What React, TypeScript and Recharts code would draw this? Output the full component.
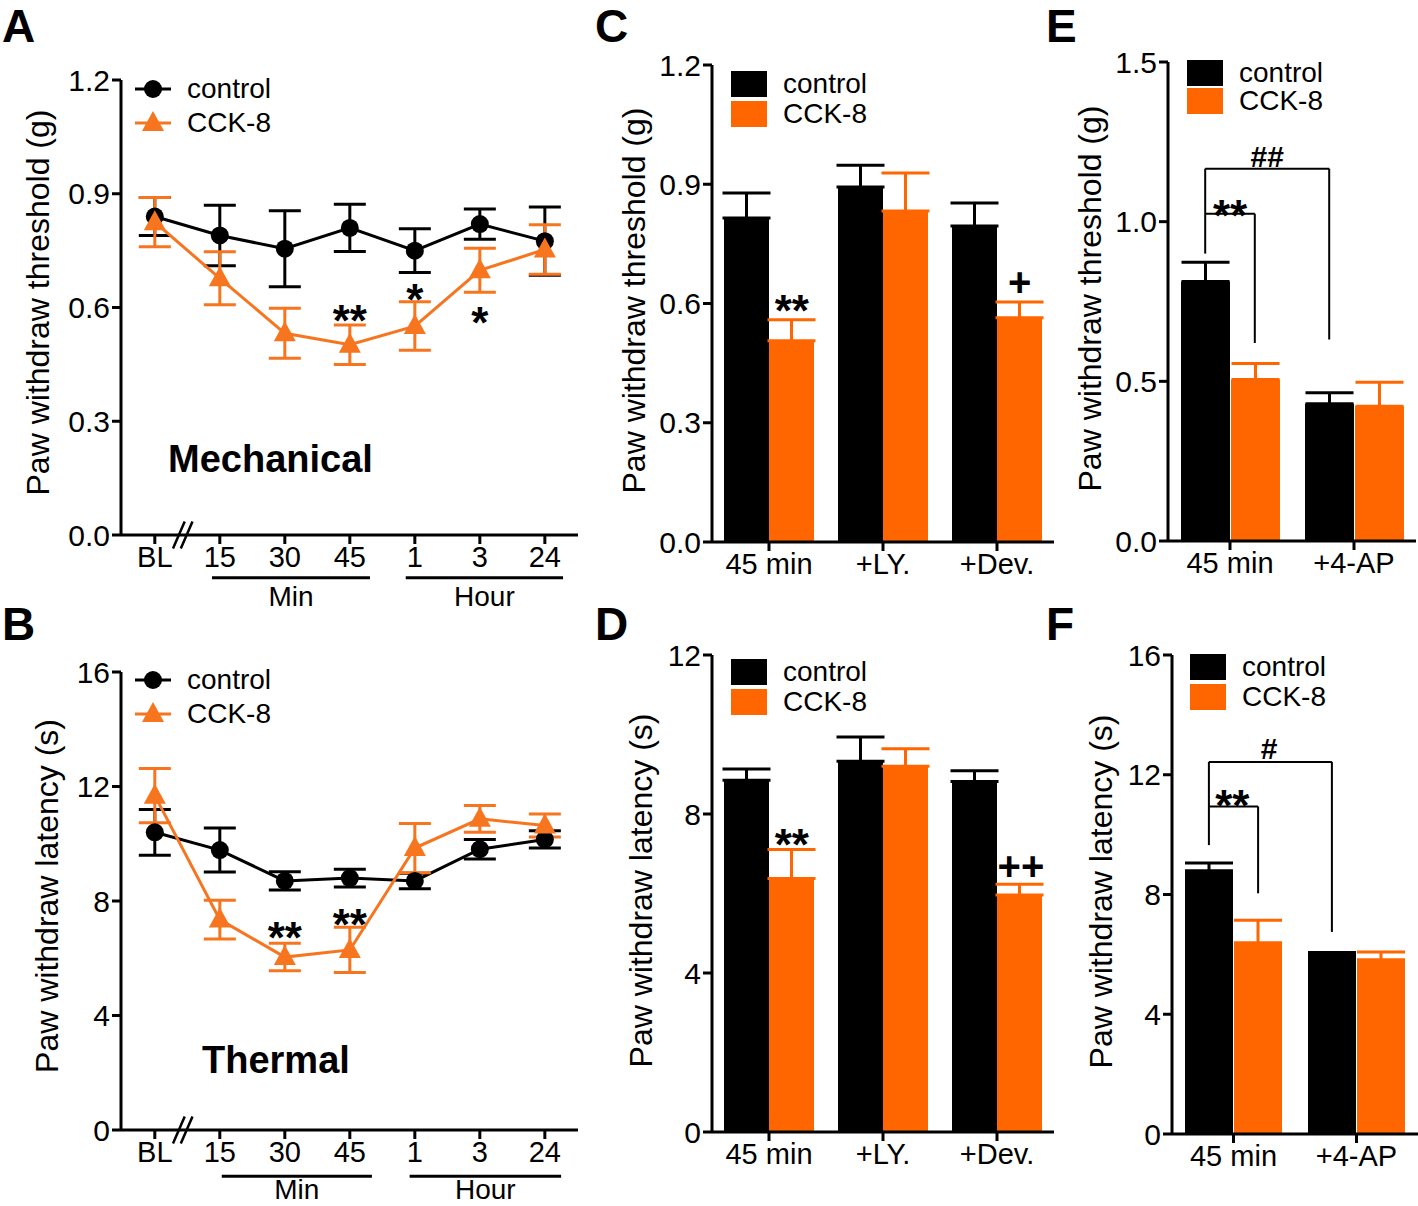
import React from "react";
import {
  LineChart,
  Line,
  BarChart,
  Bar,
  XAxis,
  YAxis,
  ErrorBar,
  ReferenceLine,
  ReferenceDot,
  Legend,
} from "recharts";

const FONT = "'Liberation Sans', Arial, Helvetica, sans-serif";
const ORANGE = "#FF6600";
const LINE_ORANGE = "#F7751F";

// ---- A / B : time course ----
const timeLabels = ["BL", "15", "30", "45", "1", "3", "24"];

const mechControl = [0.84, 0.79, 0.755, 0.81, 0.75, 0.82, 0.775];
const mechControlErr = [0.05, 0.08, 0.1, 0.062, 0.058, 0.04, 0.09];
const mechCck = [0.825, 0.677, 0.532, 0.502, 0.551, 0.698, 0.753];
const mechCckErr = [0.065, 0.07, 0.066, 0.052, 0.064, 0.058, 0.065];

const thermControl = [10.4, 9.78, 8.7, 8.8, 8.7, 9.81, 10.15];
const thermControlErr = [0.8, 0.77, 0.32, 0.31, 0.27, 0.34, 0.3];
const thermCck = [11.68, 7.35, 6.04, 6.29, 9.85, 10.87, 10.64];
const thermCckErr = [0.95, 0.68, 0.48, 0.79, 0.86, 0.47, 0.4];

const mechSigs = [
  { x: 3, y: 0.595, t: "**" },
  { x: 4, y: 0.651, t: "*" },
  { x: 5, y: 0.588, t: "*" },
];
const thermSigs = [
  { x: 2, y: 7.1, t: "**" },
  { x: 3, y: 7.55, t: "**" },
];

// ---- C / D : antagonists ----
const drugGroups = ["45 min", "+LY.", "+Dev."];
const cControl = [0.815, 0.893, 0.795];
const cControlErr = [0.063, 0.055, 0.058];
const cCck = [0.506, 0.833, 0.564];
const cCckErr = [0.053, 0.095, 0.04];
const cSigs = [
  { x: 0.7, y: 0.609, t: "**" },
  { x: 2.7, y: 0.654, t: "+" },
];

const dControl = [8.85, 9.33, 8.82];
const dControlErr = [0.28, 0.61, 0.27];
const dCck = [6.38, 9.2, 5.96];
const dCckErr = [0.73, 0.44, 0.27];
const dSigs = [
  { x: 0.7, y: 7.51, t: "**" },
  { x: 2.71, y: 6.69, t: "++" },
];

// ---- E / F : 4-AP ----
const apGroups = ["45 min", "+4-AP"];
const eControl = [0.813, 0.43];
const eControlErr = [0.06, 0.034];
const eCck = [0.506, 0.422];
const eCckErr = [0.05, 0.075];
const eSigs = [
  { x: 0.5, y: 1.055, t: "**" },
  { x: 0.8, y: 1.205, t: "##" },
];
const eBrackets = [
  [[0.3, 1.166], [1.3, 1.166]],
  [[0.3, 1.025], [0.7, 1.025]],
  [[0.3, 0.9], [0.3, 1.166]],
  [[0.7, 0.62], [0.7, 1.025]],
  [[1.3, 0.631], [1.3, 1.166]],
];

const fControl = [8.79, 5.97];
const fControlErr = [0.26, 0.09];
const fCck = [6.39, 5.82];
const fCckErr = [0.75, 0.26];
const fSigs = [
  { x: 0.49, y: 11.33, t: "**" },
  { x: 0.79, y: 12.88, t: "#" },
];
const fBrackets = [
  [[0.3, 12.43], [1.3, 12.43]],
  [[0.3, 10.94], [0.7, 10.94]],
  [[0.3, 9.65], [0.3, 12.43]],
  [[0.7, 8.04], [0.7, 10.94]],
  [[1.3, 6.75], [1.3, 12.43]],
];

const axisLine = { stroke: "#000", strokeWidth: 3 };
const xTick = { fill: "#000", fontSize: 29, fontFamily: FONT };
const yTick = { fill: "#000", fontSize: 30, fontFamily: FONT };

const lineRows = (c: number[], ce: number[], k: number[], ke: number[]) =>
  c.map((v, i) => ({ i, ctrl: v, ctrlErr: ce[i], cck: k[i], cckErr: ke[i] }));

const barRows = (g: string[], c: number[], ce: number[], k: number[], ke: number[]) =>
  g.map((name, i) => ({
    g: name,
    pos: i + 0.5,
    ctrl: c[i],
    ctrlErr: [0, ce[i]],
    cck: k[i],
    cckErr: [0, ke[i]],
  }));

const yTitle = (text: string, cx: number, dy: number) => (props: any) => {
  const vb = props.viewBox;
  const cy = vb.y + vb.height / 2 + dy;
  return (
    <text
      x={cx}
      y={cy}
      transform={`rotate(-90 ${cx} ${cy})`}
      textAnchor="middle"
      dominantBaseline="central"
      fontSize={32}
      fontFamily={FONT}
      fill="#000"
    >
      {text}
    </text>
  );
};

const sigShape = (t: string) => (p: any) => {
  const fs = t.includes("*") ? 44 : t.includes("#") ? 30 : 40;
  const shift = t.includes("*") ? 0.6 : 0.35;
  return (
    <text
      x={p.cx}
      y={p.cy + shift * fs}
      textAnchor="middle"
      fontSize={fs}
      fontWeight="bold"
      fontFamily={FONT}
      fill="#000"
    >
      {t}
    </text>
  );
};

const Triangle = (props: any) => {
  const { cx, cy, index } = props;
  if (cx == null || cy == null) return <g key={index} />;
  return (
    <path
      key={index}
      d={`M${cx},${cy - 12} L${cx + 11},${cy + 8} L${cx - 11},${cy + 8} Z`}
      fill={LINE_ORANGE}
    />
  );
};

type Item = { label: string; color: string; marker: "circle" | "triangle" | "square" };

const legendContent = (items: Item[], rowH: number) => () => (
  <div style={{ fontFamily: FONT, fontSize: 28, color: "#000" }}>
    {items.map((it) => (
      <div key={it.label} style={{ display: "flex", alignItems: "center", height: rowH }}>
        <svg width={36} height={rowH} style={{ marginRight: 16, display: "block" }}>
          {it.marker === "square" ? (
            <rect x={0} y={(rowH - 26) / 2} width={36} height={26} fill={it.color} />
          ) : (
            <g>
              <line x1={0} x2={36} y1={rowH / 2} y2={rowH / 2} stroke={it.color} strokeWidth={3} />
              {it.marker === "circle" ? (
                <circle cx={18} cy={rowH / 2} r={9} fill={it.color} />
              ) : (
                <path
                  d={`M18,${rowH / 2 - 12} L29,${rowH / 2 + 8} L7,${rowH / 2 + 8} Z`}
                  fill={it.color}
                />
              )}
            </g>
          )}
        </svg>
        <span style={{ lineHeight: 1 }}>{it.label}</span>
      </div>
    ))}
  </div>
);

const lineItems: Item[] = [
  { label: "control", color: "#000", marker: "circle" },
  { label: "CCK-8", color: LINE_ORANGE, marker: "triangle" },
];
const barItems: Item[] = [
  { label: "control", color: "#000", marker: "square" },
  { label: "CCK-8", color: ORANGE, marker: "square" },
];

function LinePanel(props: any) {
  const { box, margin, yDomain, yTicks, yFmt, title, titleX, rows, legendPos, groupY, groupOffset, breakDy, sigs, groups } = props;
  return (
    <div style={{ position: "absolute", left: box.left, top: box.top }}>
      <LineChart width={box.width} height={box.height} data={rows} margin={margin}>
        <XAxis
          dataKey="i"
          type="number"
          domain={[-0.52, 6.51]}
          ticks={[0, 1, 2, 3, 4, 5, 6]}
          tickFormatter={(v: number) => timeLabels[v]}
          allowDataOverflow
          interval={0}
          axisLine={axisLine}
          tickLine={axisLine}
          tick={xTick}
          tickSize={9}
        />
        <YAxis
          width={121}
          domain={yDomain}
          ticks={yTicks}
          tickFormatter={yFmt}
          allowDataOverflow
          axisLine={axisLine}
          tickLine={axisLine}
          tick={yTick}
          tickSize={9}
          label={yTitle(title, titleX, -5)}
        />
        <Line
          dataKey="ctrl"
          stroke="#000"
          strokeWidth={3}
          dot={{ r: 9, fill: "#000", stroke: "#000", strokeWidth: 0 }}
          activeDot={false}
          isAnimationActive={false}
        >
          <ErrorBar dataKey="ctrlErr" width={16} strokeWidth={3} stroke="#000" direction="y" />
        </Line>
        <Line
          dataKey="cck"
          stroke={LINE_ORANGE}
          strokeWidth={3}
          dot={Triangle}
          activeDot={false}
          isAnimationActive={false}
        >
          <ErrorBar dataKey="cckErr" width={16} strokeWidth={3} stroke={LINE_ORANGE} direction="y" />
        </Line>
        {groups.map((g: any) => (
          <ReferenceLine
            key={g.label}
            segment={[
              { x: g.from, y: groupY },
              { x: g.to, y: groupY },
            ]}
            stroke="#000"
            strokeWidth={3}
            ifOverflow="visible"
            label={{ value: g.label, position: "bottom", offset: groupOffset, fontSize: 28, fontFamily: FONT, fill: "#000" }}
          />
        ))}
        {[0.28, 0.4].map((x0) => (
          <ReferenceLine
            key={x0}
            segment={[
              { x: x0, y: -breakDy },
              { x: x0 + 0.18, y: breakDy },
            ]}
            stroke="#000"
            strokeWidth={2.5}
            ifOverflow="visible"
          />
        ))}
        {sigs.map((s: any, k: number) => (
          <ReferenceDot key={k} x={s.x} y={s.y} r={0} shape={sigShape(s.t)} />
        ))}
        <Legend
          layout="vertical"
          align="center"
          verticalAlign="middle"
          wrapperStyle={{ left: legendPos.left, top: legendPos.top, width: "auto" }}
          content={legendContent(lineItems, 34)}
        />
      </LineChart>
    </div>
  );
}

function BarPanel(props: any) {
  const { box, margin, yWidth, yDomain, yTicks, yFmt, title, titleX, rows, legendPos, rowH, sigs, brackets, catGap, barGap } = props;
  return (
    <div style={{ position: "absolute", left: box.left, top: box.top }}>
      <BarChart
        width={box.width}
        height={box.height}
        data={rows}
        margin={margin}
        barCategoryGap={catGap}
        barGap={barGap}
      >
        <XAxis
          dataKey="g"
          interval={0}
          axisLine={axisLine}
          tickLine={axisLine}
          tick={xTick}
          tickSize={9}
        />
        <XAxis
          xAxisId="n"
          dataKey="pos"
          type="number"
          scale="linear"
          domain={[0, rows.length]}
          allowDataOverflow
          hide
        />
        <YAxis
          width={yWidth}
          domain={yDomain}
          ticks={yTicks}
          tickFormatter={yFmt}
          allowDataOverflow
          axisLine={axisLine}
          tickLine={axisLine}
          tick={yTick}
          tickSize={9}
          label={yTitle(title, titleX, -3)}
        />
        <Bar dataKey="ctrl" fill="#000" isAnimationActive={false}>
          <ErrorBar dataKey="ctrlErr" width={24} strokeWidth={3} stroke="#000" direction="y" />
        </Bar>
        <Bar dataKey="cck" fill={ORANGE} isAnimationActive={false}>
          <ErrorBar dataKey="cckErr" width={24} strokeWidth={3} stroke={ORANGE} direction="y" />
        </Bar>
        {(brackets || []).map((b: number[][], k: number) => (
          <ReferenceLine
            key={"b" + k}
            xAxisId="n"
            segment={[
              { x: b[0][0], y: b[0][1] },
              { x: b[1][0], y: b[1][1] },
            ]}
            stroke="#000"
            strokeWidth={2}
            ifOverflow="visible"
          />
        ))}
        {sigs.map((s: any, k: number) => (
          <ReferenceDot key={k} xAxisId="n" x={s.x} y={s.y} r={0} shape={sigShape(s.t)} />
        ))}
        <Legend
          layout="vertical"
          align="center"
          verticalAlign="middle"
          wrapperStyle={{ left: legendPos.left, top: legendPos.top, width: "auto" }}
          content={legendContent(barItems, rowH)}
        />
      </BarChart>
    </div>
  );
}

const letterStyle: React.CSSProperties = {
  position: "absolute",
  fontFamily: FONT,
  fontWeight: "bold",
  fontSize: 46,
  lineHeight: "52px",
  color: "#000",
};

const bigLabel: React.CSSProperties = {
  position: "absolute",
  fontFamily: FONT,
  fontWeight: "bold",
  fontSize: 38,
  color: "#000",
  lineHeight: 1,
};

export default function App() {
  const f1 = (v: number) => v.toFixed(1);
  const f0 = (v: number) => String(v);
  return (
    <div
      style={{
        position: "absolute",
        left: 0,
        top: 0,
        width: 1418,
        height: 1206,
        background: "#fff",
        overflow: "hidden",
      }}
    >
      <LinePanel
        box={{ left: 0, top: 0, width: 590, height: 615 }}
        margin={{ top: 80, right: 12, bottom: 50, left: 0 }}
        yDomain={[0, 1.2]}
        yTicks={[0, 0.3, 0.6, 0.9, 1.2]}
        yFmt={f1}
        title="Paw withdraw threshold (g)"
        titleX={38}
        rows={lineRows(mechControl, mechControlErr, mechCck, mechCckErr)}
        legendPos={{ left: 135, top: 72 }}
        groupY={-0.113}
        groupOffset={8}
        breakDy={0.0355}
        sigs={mechSigs}
        groups={[
          { label: "Min", from: 0.88, to: 3.31 },
          { label: "Hour", from: 3.86, to: 6.28 },
        ]}
      />
      <LinePanel
        box={{ left: 0, top: 600, width: 590, height: 606 }}
        margin={{ top: 72, right: 12, bottom: 46, left: 0 }}
        yDomain={[0, 16]}
        yTicks={[0, 4, 8, 12, 16]}
        yFmt={f0}
        title="Paw withdraw latency (s)"
        titleX={47}
        rows={lineRows(thermControl, thermControlErr, thermCck, thermCckErr)}
        legendPos={{ left: 135, top: 63 }}
        groupY={-1.62}
        groupOffset={3}
        breakDy={0.47}
        sigs={thermSigs}
        groups={[
          { label: "Min", from: 1.03, to: 3.34 },
          { label: "Hour", from: 3.92, to: 6.25 },
        ]}
      />
      <BarPanel
        box={{ left: 590, top: 0, width: 470, height: 600 }}
        margin={{ top: 65, right: 6, bottom: 28, left: 0 }}
        yWidth={122}
        yDomain={[0, 1.2]}
        yTicks={[0, 0.3, 0.6, 0.9, 1.2]}
        yFmt={f1}
        title="Paw withdraw threshold (g)"
        titleX={44}
        rows={barRows(drugGroups, cControl, cControlErr, cCck, cCckErr)}
        legendPos={{ left: 141, top: 69 }}
        rowH={30}
        sigs={cSigs}
        catGap={12}
        barGap={0}
      />
      <BarPanel
        box={{ left: 590, top: 600, width: 470, height: 606 }}
        margin={{ top: 55, right: 6, bottom: 44, left: 0 }}
        yWidth={122}
        yDomain={[0, 12]}
        yTicks={[0, 4, 8, 12]}
        yFmt={f0}
        title="Paw withdraw latency (s)"
        titleX={51}
        rows={barRows(drugGroups, dControl, dControlErr, dCck, dCckErr)}
        legendPos={{ left: 141, top: 57 }}
        rowH={30}
        sigs={dSigs}
        catGap={12}
        barGap={0}
      />
      <BarPanel
        box={{ left: 1060, top: 0, width: 358, height: 600 }}
        margin={{ top: 62, right: 2, bottom: 29, left: 0 }}
        yWidth={108}
        yDomain={[0, 1.5]}
        yTicks={[0, 0.5, 1.0, 1.5]}
        yFmt={f1}
        title="Paw withdraw threshold (g)"
        titleX={30}
        rows={barRows(apGroups, eControl, eControlErr, eCck, eCckErr)}
        legendPos={{ left: 127, top: 59 }}
        rowH={28}
        sigs={eSigs}
        brackets={eBrackets}
        catGap={13}
        barGap={1}
      />
      <BarPanel
        box={{ left: 1060, top: 600, width: 358, height: 606 }}
        margin={{ top: 55, right: 0, bottom: 42, left: 0 }}
        yWidth={112}
        yDomain={[0, 16]}
        yTicks={[0, 4, 8, 12, 16]}
        yFmt={f0}
        title="Paw withdraw latency (s)"
        titleX={41}
        rows={barRows(apGroups, fControl, fControlErr, fCck, fCckErr)}
        legendPos={{ left: 130, top: 52 }}
        rowH={30}
        sigs={fSigs}
        brackets={fBrackets}
        catGap={13}
        barGap={1}
      />

      <div style={{ ...letterStyle, left: 2, top: 0 }}>A</div>
      <div style={{ ...letterStyle, left: 2, top: 598 }}>B</div>
      <div style={{ ...letterStyle, left: 595, top: 0 }}>C</div>
      <div style={{ ...letterStyle, left: 595, top: 598 }}>D</div>
      <div style={{ ...letterStyle, left: 1046, top: 0 }}>E</div>
      <div style={{ ...letterStyle, left: 1046, top: 598 }}>F</div>

      <div style={{ ...bigLabel, left: 168, top: 440 }}>Mechanical</div>
      <div style={{ ...bigLabel, left: 202, top: 1041 }}>Thermal</div>
    </div>
  );
}
